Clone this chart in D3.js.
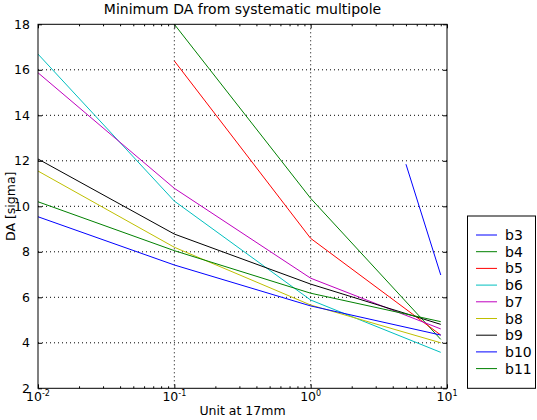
<!DOCTYPE html>
<html><head><meta charset="utf-8">
<script src="https://cdn.jsdelivr.net/npm/d3@7"></script>
<style>body{margin:0;background:#fff}svg{font-family:"DejaVu Sans",sans-serif}</style>
</head><body><svg id="c" width="537" height="420"></svg>
<script>
const seriesNames = ["b3","b4","b5","b6","b7","b8","b9","b10","b11"];
const colors = ["#0000ff","#008000","#ff0000","#00bfbf","#bf00bf","#bfbf00","#000000","#0000ff","#008000"];
const b3  = [[5, 11.85],[9, 6.98]];
const b4  = [[0.1, 18.0],[1, 10.35],[9, 4.15]];
const b5  = [[0.1, 16.39],[1, 8.59],[9, 4.34]];
const b6  = [[0.01, 16.69],[0.1, 10.23],[1, 5.88],[9, 3.58]];
const b7  = [[0.01, 15.87],[0.1, 10.79],[1, 6.84],[9, 4.61]];
const b8  = [[0.01, 11.55],[0.1, 8.2],[1, 5.66],[9, 4.0]];
const b9  = [[0.01, 12.08],[0.1, 8.78],[1, 6.58],[9, 4.81]];
const b10 = [[0.01, 9.54],[0.1, 7.42],[1, 5.62],[9, 4.34]];
const b11 = [[0.01, 10.2],[0.1, 8.05],[1, 6.18],[9, 4.93]];
const allSeries = [b3,b4,b5,b6,b7,b8,b9,b10,b11];
const yTicks = [2,4,6,8,10,12,14,16,18];
const xTicks = [0.01, 0.1, 1, 10];
const xTickExp = ["-2","-1","0","1"];

const svg = d3.select("#c");
const L=38, R=447, T=24.3, B=388.3;
const x = d3.scaleLog().domain([0.01,10]).range([L,R]);
const y = d3.scaleLinear().domain([2,18]).range([B,T]);

// grid
const g = svg.append("g");
g.selectAll("line.gy").data(yTicks.slice(1,-1)).enter().append("line")
 .attr("x1",L).attr("x2",R).attr("y1",d=>y(d)).attr("y2",d=>y(d))
 .attr("stroke","#000").attr("stroke-width",1).attr("stroke-dasharray","1,3");
g.selectAll("line.gx").data(xTicks.slice(1,-1)).enter().append("line")
 .attr("y1",T).attr("y2",B).attr("x1",d=>x(d)).attr("x2",d=>x(d))
 .attr("stroke","#000").attr("stroke-width",1).attr("stroke-dasharray","1,3");

// lines
const line = d3.line().x(d=>x(d[0])).y(d=>y(d[1]));
svg.append("defs").append("clipPath").attr("id","clip").append("rect")
 .attr("x",L).attr("y",T).attr("width",R-L).attr("height",B-T);
svg.append("g").attr("clip-path","url(#clip)").selectAll("path").data(allSeries).enter().append("path")
 .attr("d",line).attr("fill","none").attr("stroke",(d,i)=>colors[i]).attr("stroke-width",1);

// axes (ticks inward)
const minor = [];
for (let e=-2;e<1;e++) for (let m=2;m<10;m++) minor.push(m*Math.pow(10,e));
const ax = svg.append("g");
ax.append("g").attr("transform",`translate(0,${B})`)
 .call(d3.axisBottom(x).tickValues(xTicks).tickSize(-4).tickFormat(""))
 .call(s=>s.select(".domain").remove());
ax.append("g").attr("transform",`translate(0,${B})`)
 .call(d3.axisBottom(x).tickValues(minor).tickSize(-2).tickFormat(""))
 .call(s=>s.select(".domain").remove());
ax.append("g").attr("transform",`translate(0,${T})`)
 .call(d3.axisTop(x).tickValues(xTicks).tickSize(-4).tickFormat(""))
 .call(s=>s.select(".domain").remove());
ax.append("g").attr("transform",`translate(0,${T})`)
 .call(d3.axisTop(x).tickValues(minor).tickSize(-2).tickFormat(""))
 .call(s=>s.select(".domain").remove());
ax.append("g").attr("transform",`translate(${L},0)`)
 .call(d3.axisLeft(y).tickValues(yTicks).tickSize(-4).tickPadding(8))
 .call(s=>s.select(".domain").remove())
 .call(s=>s.selectAll("text").attr("font-size",12.5).attr("fill","#000").attr("font-family","DejaVu Sans"));
ax.append("g").attr("transform",`translate(${R},0)`)
 .call(d3.axisRight(y).tickValues(yTicks).tickSize(-4).tickFormat(""))
 .call(s=>s.select(".domain").remove());
ax.selectAll("line").attr("stroke","#000");
// x tick labels with superscripts
const xl = svg.append("g").selectAll("text").data(xTicks).enter().append("text")
 .attr("x",d=>x(d)).attr("y",B+13).attr("text-anchor","middle").attr("font-size",12.5).attr("fill","#000");
xl.append("tspan").text("10");
xl.append("tspan").attr("dy",-5).attr("font-size",8).text((d,i)=>xTickExp[i]);

// frame
svg.append("rect").attr("x",L).attr("y",T).attr("width",R-L).attr("height",B-T)
 .attr("fill","none").attr("stroke","#000").attr("stroke-width",1);

// title & labels
svg.append("text").attr("x",(L+R)/2).attr("y",14).attr("text-anchor","middle")
 .attr("font-size",14).text("Minimum DA from systematic multipole");
svg.append("text").attr("x",(L+R)/2).attr("y",415).attr("text-anchor","middle")
 .attr("font-size",12.5).text("Unit at 17mm");
svg.append("text").attr("transform",`translate(15,${(T+B)/2}) rotate(-90)`).attr("text-anchor","middle")
 .attr("font-size",12.5).text("DA [sigma]");

// legend
const lg = svg.append("g");
lg.append("rect").attr("x",467.5).attr("y",216).attr("width",68).attr("height",172.3)
 .attr("fill","#fff").attr("stroke","#000").attr("stroke-width",1);
const it = lg.selectAll("g.it").data(seriesNames).enter().append("g")
 .attr("transform",(d,i)=>`translate(0,${235+i*16.7})`);
it.append("line").attr("x1",476).attr("x2",497).attr("y1",0).attr("y2",0)
 .attr("stroke",(d,i)=>colors[i]).attr("stroke-width",1);
it.append("text").attr("x",505).attr("y",5).attr("font-size",14).text(d=>d);
</script></body></html>
